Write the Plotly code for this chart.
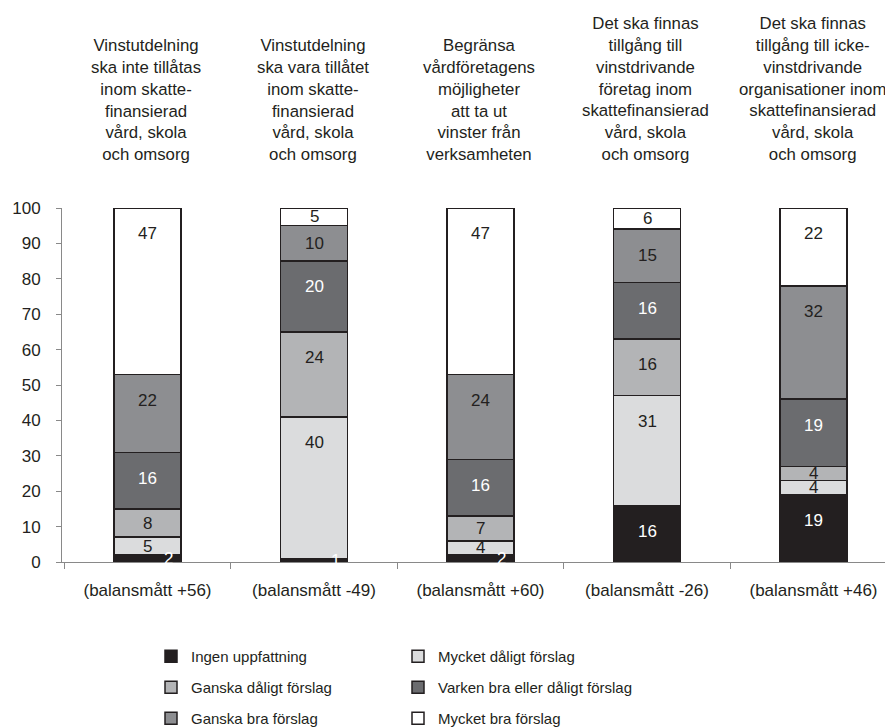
import plotly.graph_objects as go

categories = ["(balansmått +56)", "(balansmått -49)", "(balansmått +60)",
              "(balansmått -26)", "(balansmått +46)"]
titles = [
    "Vinstutdelning<br>ska inte tillåtas<br>inom skatte-<br>finansierad<br>vård, skola<br>och omsorg",
    "Vinstutdelning<br>ska vara tillåtet<br>inom skatte-<br>finansierad<br>vård, skola<br>och omsorg",
    "Begränsa<br>vårdföretagens<br>möjligheter<br>att ta ut<br>vinster från<br>verksamheten",
    "Det ska finnas<br>tillgång till<br>vinstdrivande<br>företag inom<br>skattefinansierad<br>vård, skola<br>och omsorg",
    "Det ska finnas<br>tillgång till icke-<br>vinstdrivande<br>organisationer inom<br>skattefinansierad<br>vård, skola<br>och omsorg",
]
series_names = ["Ingen uppfattning", "Mycket dåligt förslag", "Ganska dåligt förslag",
                "Varken bra eller dåligt förslag", "Ganska bra förslag", "Mycket bra förslag"]
ingen = [2, 1, 2, 16, 19]
mycket_daligt = [5, 40, 4, 31, 4]
ganska_daligt = [8, 24, 7, 16, 4]
varken = [16, 20, 16, 16, 19]
ganska_bra = [22, 10, 24, 15, 32]
mycket_bra = [47, 5, 47, 6, 22]
series_values = [ingen, mycket_daligt, ganska_daligt, varken, ganska_bra, mycket_bra]

colors = ["#231f20", "#dbdcdd", "#b3b4b6", "#6b6c6f", "#8d8e91", "#ffffff"]
label_colors = ["#ffffff", "#231f20", "#231f20", "#ffffff", "#231f20", "#231f20"]
FONT = "Liberation Sans, Arial, sans-serif"
DARK = "#231f20"
FS = 17

# the page body adds an 8 px margin, so the figure is drawn 8 px smaller
W, H = 885, 719

fig = go.Figure()
left_col = [0, 2, 4]
for i, (name, vals) in enumerate(zip(series_names, series_values)):
    fig.add_trace(go.Bar(
        x=categories, y=vals, name=name, width=0.4,
        marker=dict(color=colors[i], line=dict(color=DARK, width=1.5)),
        legend="legend" if i in left_col else "legend2",
        legendgroup=name, hoverinfo="skip",
    ))

annotations = []
base = [0] * len(categories)
for i, vals in enumerate(series_values):
    for j, v in enumerate(vals):
        bottom = base[j]
        top = bottom + v
        mid = (bottom + top) / 2
        ypos = max(mid, top - 7.3)
        annotations.append(dict(
            x=categories[j], y=ypos, xref="x", yref="y", text=str(v), showarrow=False,
            font=dict(family=FONT, size=FS, color=label_colors[i]),
            xshift=21 if (i == 0 and v < 3) else 0, yanchor="middle",
        ))
        base[j] = top

for j, t in enumerate(titles):
    annotations.append(dict(
        x=categories[j], y=1, xref="x", yref="paper", text=t, showarrow=False,
        yanchor="bottom", yshift=42, xshift=-1.5,
        font=dict(family=FONT, size=16.8, color=DARK),
    ))

legend_common = dict(yref="container", xref="container", xanchor="left", yanchor="top",
                     orientation="v", traceorder="grouped", tracegroupgap=8.5,
                     font=dict(family=FONT, size=15, color=DARK), bgcolor="rgba(0,0,0,0)")
fig.update_layout(
    barmode="stack",
    width=W, height=H,
    margin=dict(l=54, r=0, t=200, b=165, autoexpand=False),
    paper_bgcolor="white", plot_bgcolor="white",
    font=dict(family=FONT, size=FS, color=DARK),
    annotations=annotations,
    showlegend=True,
    legend=dict(x=143 / W, y=1 - 632 / H, **legend_common),
    legend2=dict(x=390 / W, y=1 - 632 / H, **legend_common),
    xaxis=dict(showgrid=False, showline=True, linecolor="#898989", linewidth=1,
               range=[-0.5135, 4.4775],
               ticks="outside", tickson="boundaries", ticklen=6, tickcolor="#898989",
               ticklabelstandoff=13, tickfont=dict(family=FONT, size=FS, color=DARK)),
    yaxis=dict(range=[0, 100], dtick=10, showgrid=False, showline=True, linecolor="#898989",
               linewidth=1, ticks="outside", ticklen=5, tickcolor="#898989", zeroline=False,
               ticklabelstandoff=12, tickfont=dict(family=FONT, size=FS, color=DARK)),
)
fig.write_html("out.html")
